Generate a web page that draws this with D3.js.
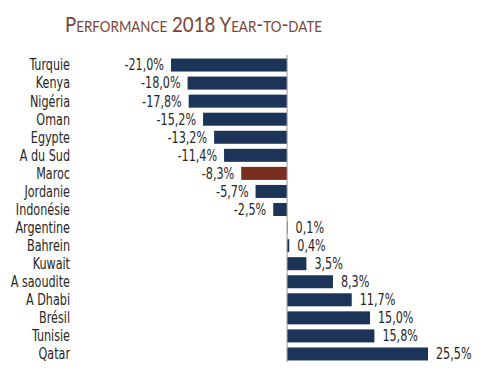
<!DOCTYPE html>
<html>
<head>
<meta charset="utf-8">
<script src="https://cdn.jsdelivr.net/npm/d3@7"></script>
<style>
  body { margin: 0; background: #fff; }
  .title { font-family: Lato, "Open Sans", sans-serif; font-variant: small-caps; fill: #7a4536; }
  .lbl { font-family: "DejaVu Sans Condensed", "DejaVu Sans", sans-serif; font-stretch: condensed; fill: #262626; }
</style>
</head>
<body>
<div id="chart"></div>
<script>
var countries = ['Turquie', 'Kenya', 'Nigéria', 'Oman', 'Egypte', 'A du Sud', 'Maroc', 'Jordanie', 'Indonésie',
    'Argentine', 'Bahrein', 'Kuwait', 'A saoudite', 'A Dhabi', 'Brésil', 'Tunisie', 'Qatar']
var perf = [-21.0, -18.0, -17.8, -15.2, -13.2, -11.4, -8.3, -5.7, -2.5, 0.1, 0.4, 3.5, 8.3, 11.7, 15.0, 15.8, 25.5]
var highlight = 'Maroc'

var width = 494, height = 376
var squeeze = 0.83 // narrow look of the original font

var svg = d3.select("#chart")
    .append("svg")
    .attr("width", width)
    .attr("height", height)

svg.append("text")
    .attr("class", "title")
    .attr("x", 65)
    .attr("y", 32)
    .attr("textLength", 257)
    .attr("lengthAdjust", "spacingAndGlyphs")
    .style("font-size", "21px")
    .text("Performance 2018 Year-to-date")

var x = d3.scaleLinear()
    .domain([-21, 25.5])
    .range([171, 428])

var y = d3.scaleBand()
    .domain(countries)
    .range([56, 363])
    .paddingInner(0.28)
    .paddingOuter(0.14)

var data = countries.map(function (c, i) { return { name: c, value: perf[i] } })

// bars
svg.selectAll("rect.bar")
    .data(data)
    .enter()
    .append("rect")
        .attr("class", "bar")
        .attr("x", d => x(Math.min(0, d.value)))
        .attr("y", d => y(d.name))
        .attr("width", d => Math.abs(x(d.value) - x(0)))
        .attr("height", y.bandwidth())
        .attr("fill", d => d.name == highlight ? "#7a2e1f" : "#1c3457")

// zero line
svg.append("line")
    .attr("x1", x(0)).attr("x2", x(0))
    .attr("y1", 55).attr("y2", 362)
    .attr("stroke", "#999")
    .attr("stroke-width", 1)

// country names
svg.selectAll("text.name")
    .data(data)
    .enter()
    .append("text")
        .attr("class", "lbl")
        .attr("transform", d => "translate(70," + (y(d.name) + y.bandwidth() / 2) + ") scale(" + squeeze + ",1)")
        .attr("dy", "0.36em")
        .attr("text-anchor", "end")
        .style("font-size", "15px")
        .text(d => d.name)

// value labels
var fmt = function (v) { return v.toFixed(1).replace('.', ',') + '%' }
svg.selectAll("text.val")
    .data(data)
    .enter()
    .append("text")
        .attr("class", "lbl")
        .attr("transform", d => "translate(" + (d.value < 0 ? x(d.value) - 7 : x(d.value) + 8) + ","
            + (y(d.name) + y.bandwidth() / 2) + ") scale(" + squeeze + ",1)")
        .attr("dy", "0.36em")
        .attr("text-anchor", d => d.value < 0 ? "end" : "start")
        .style("font-size", "15px")
        .text(d => fmt(d.value))
</script>
</body>
</html>
